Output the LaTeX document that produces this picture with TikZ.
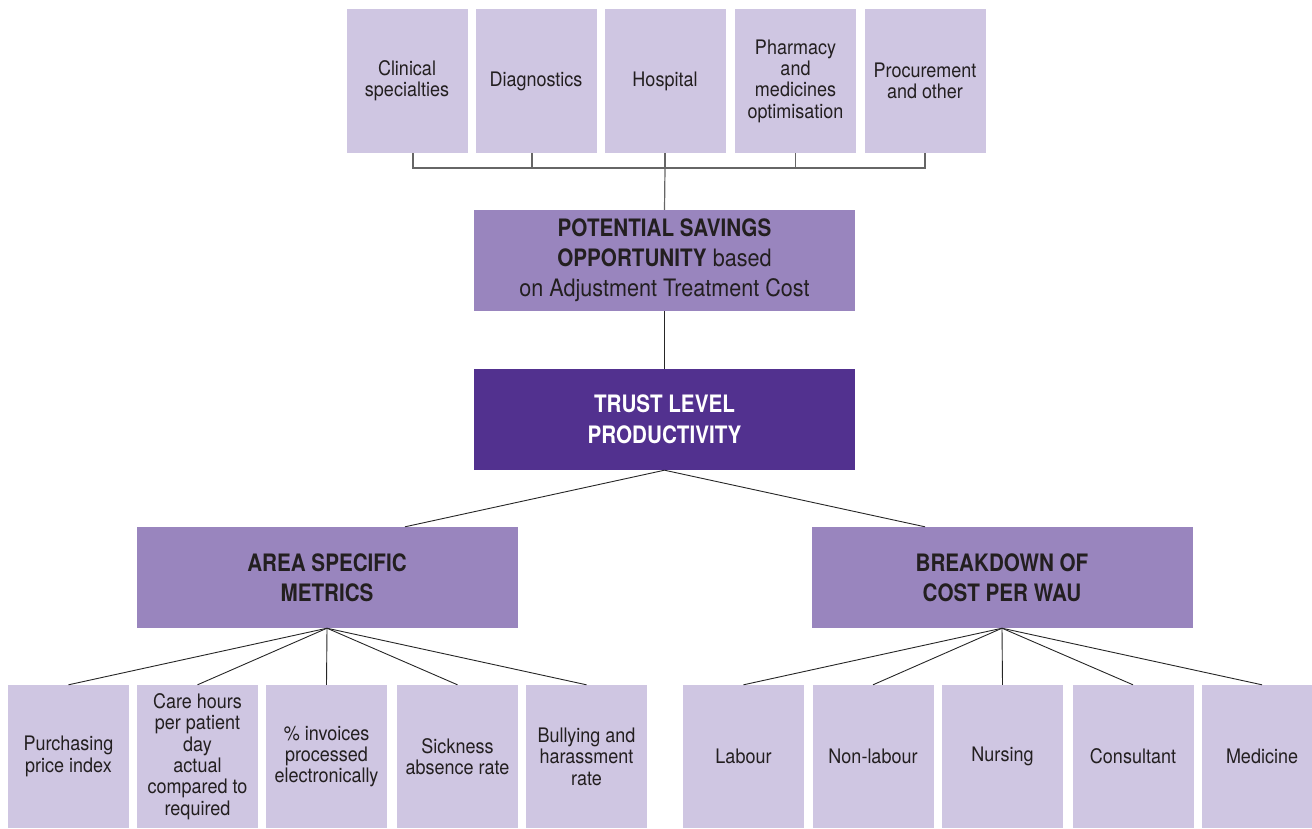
\documentclass[tikz,border=0pt]{standalone}
\usepackage{fontspec}
\setmainfont{TeX Gyre Heros}[FakeStretch=0.9,BoldFeatures={FakeStretch=0.86}]
\usetikzlibrary{positioning}
\definecolor{lilac}{HTML}{CFC6E2}
\definecolor{midpurple}{HTML}{9985BE}
\definecolor{deeppurple}{HTML}{52318F}
\definecolor{inkgrey}{HTML}{231F20}
\tikzset{
  leaf/.style={fill=lilac,text=inkgrey,inner sep=0pt,align=center,
    minimum width=121pt,minimum height=144pt,
    font=\fontsize{20}{21.4}\selectfont},
  head/.style={fill=midpurple,text=inkgrey,inner sep=0pt,align=center,
    minimum width=381pt,minimum height=101pt,
    font=\fontsize{24}{30}\selectfont},
  trustbox/.style={head,fill=deeppurple,text=white,
    font=\fontsize{24}{31}\selectfont\bfseries},
  bus/.style={draw=black!60,line width=1.2pt},
  link/.style={draw=black!85,line width=0.9pt}
}
\begin{document}
\begin{tikzpicture}[x=1pt,y=-1pt]
\clip (0,0) rectangle (1312,828);
% savings areas
\node[leaf] (clin) at (407,81) {Clinical\\specialties};
\node[leaf] (diag) at (536,81) {Diagnostics};
\node[leaf] (hosp) at (665,81) {Hospital};
\node[leaf] (pharm) at (795.5,81) {Pharmacy\\and\\medicines\\optimisation};
\node[leaf] (proc) at (925,81) {Procurement\\and other};
\coordinate (bus) at (665,168);

\node[head] (pso) at (664.5,260.5) {\textbf{POTENTIAL SAVINGS}\\
  \textbf{OPPORTUNITY} based\\on Adjustment Treatment Cost};
\node[trustbox] (trust) at (664.5,419.5) {TRUST LEVEL\\PRODUCTIVITY};

\node[head,font=\fontsize{24}{30}\selectfont\bfseries] (area) at (327,577.5)
  {AREA SPECIFIC\\METRICS};
\node[head,font=\fontsize{24}{30}\selectfont\bfseries] (cost) at (1002,577.5)
  {BREAKDOWN OF\\COST PER WAU};

% metrics
\node[leaf,minimum height=143pt] (ppi) at (68.5,756.5) {Purchasing\\price index};
\node[leaf,minimum height=143pt] (care) at (197.5,756.5)
  {Care hours\\per patient\\day\\actual\\compared to\\required};
\node[leaf,minimum height=143pt] (inv) at (326.5,756.5)
  {\% invoices\\processed\\electronically};
\node[leaf,minimum height=143pt] (sick) at (457.5,756.5) {Sickness\\absence rate};
\node[leaf,minimum height=143pt] (bully) at (586.5,756.5)
  {Bullying and\\harassment\\rate};

% cost breakdown
\node[leaf,minimum height=143pt] (lab) at (743.5,756.5) {Labour};
\node[leaf,minimum height=143pt] (nonlab) at (873,756.5) {Non-labour};
\node[leaf,minimum height=143pt] (nurs) at (1002.5,756.5) {Nursing};
\node[leaf,minimum height=143pt] (cons) at (1133,756.5) {Consultant};
\node[leaf,minimum height=143pt] (med) at (1262,756.5) {Medicine};

% connectors
\draw[bus] ([xshift=6pt]clin.south) -- ([xshift=6pt]clin.south |- bus)
  -- (proc.south |- bus) -- (proc.south);
\draw[bus] ([xshift=-4pt]diag.south) -- ([xshift=-4pt]diag.south |- bus);
\draw[bus] (hosp.south) -- (bus);
\draw[bus] (pharm.south) -- (pharm.south |- bus);
\draw[bus] (bus) -- (pso.north);
\draw[link] (pso.south) -- (trust.north);
\draw[link] (trust.south) -- ([xshift=78pt]area.north);
\draw[link] (trust.south) -- ([xshift=-77pt]cost.north);

\foreach \n in {ppi,care,inv,sick,bully}
\draw[link] (area.south) -- (\n.north);
\foreach \n in {lab,nonlab,nurs,cons,med}
\draw[link] (cost.south) -- (\n.north);
\end{tikzpicture}
\end{document}
